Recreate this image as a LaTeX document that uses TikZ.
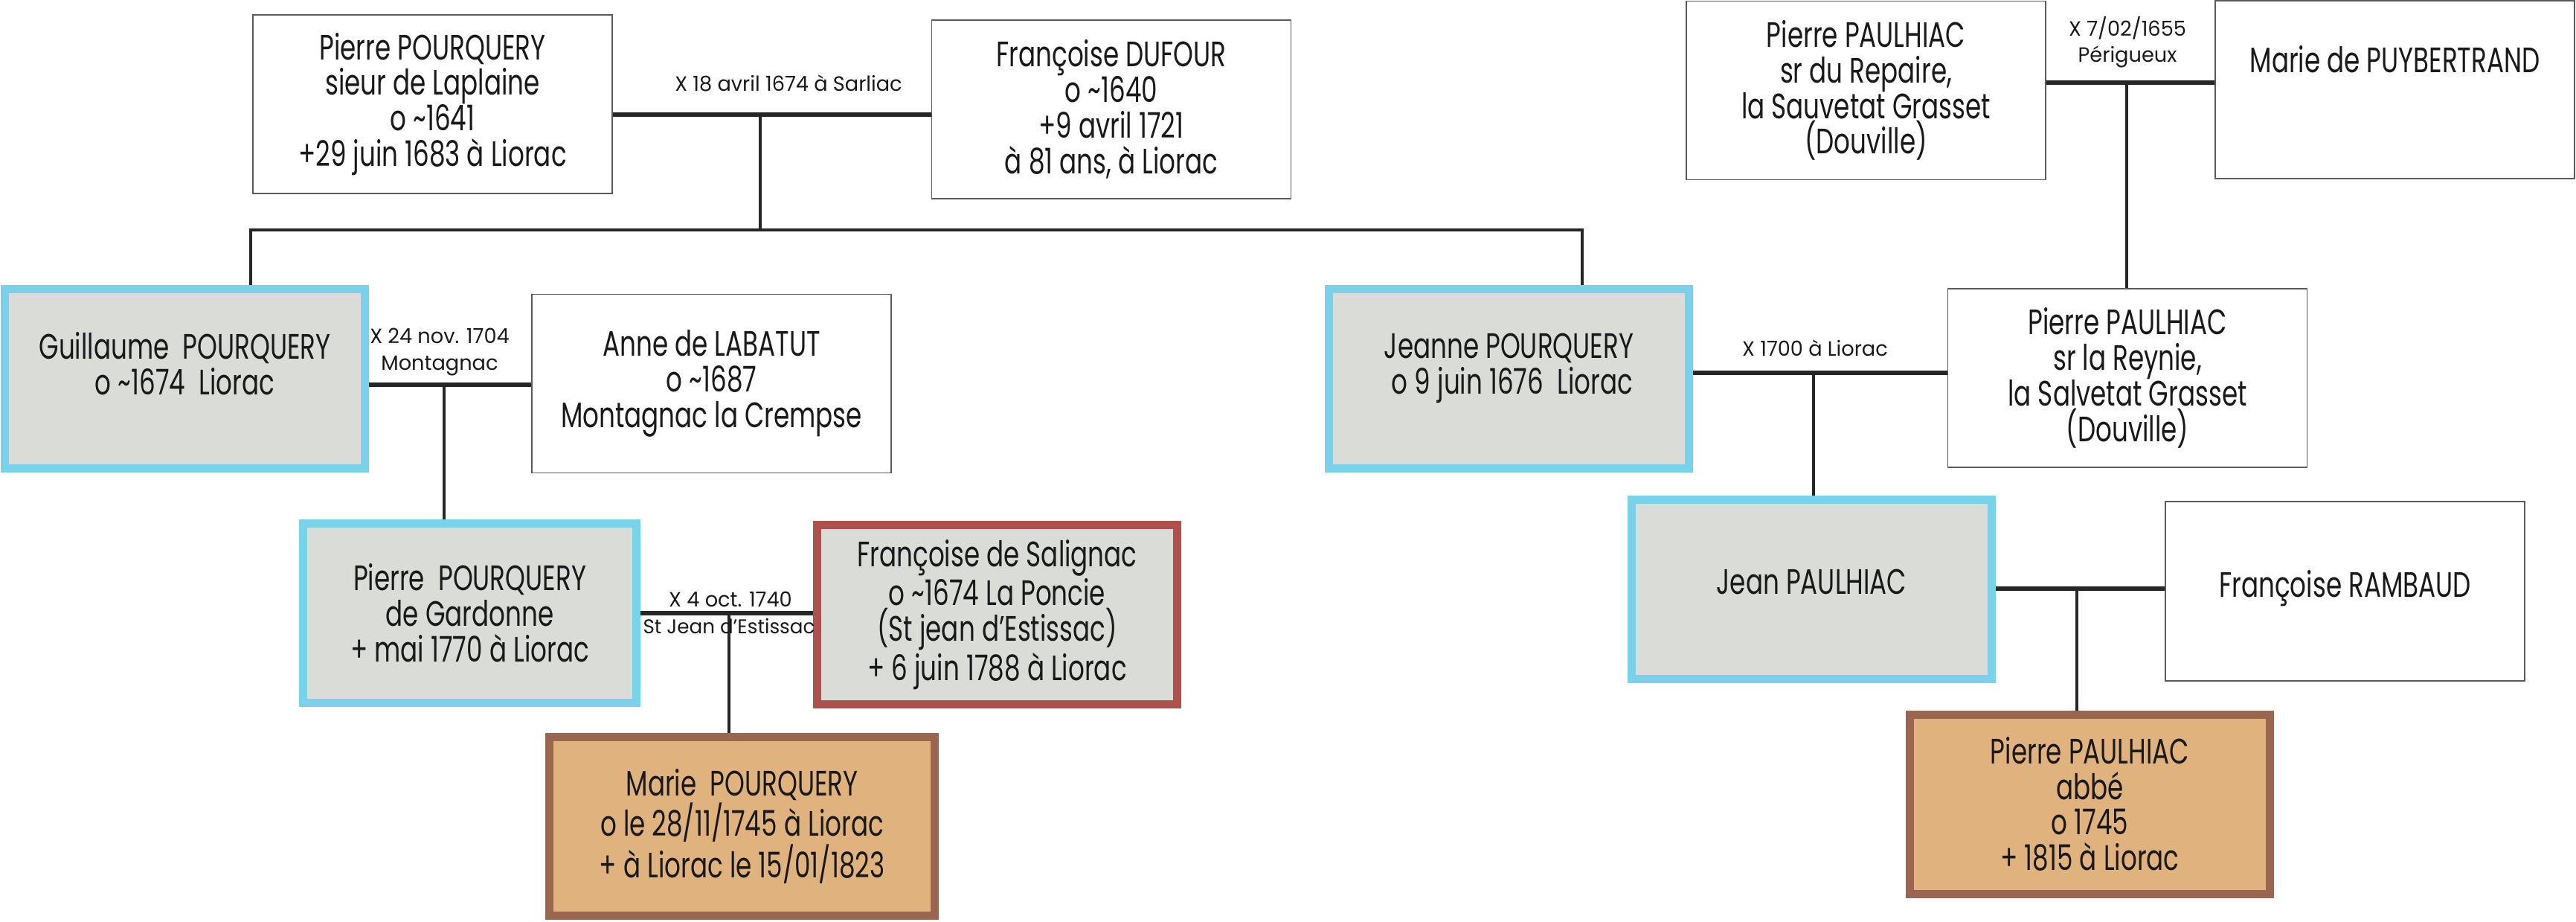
\documentclass[tikz,border=0pt]{standalone}
\usepackage{fontspec}
\setmainfont{Poppins}[FakeStretch=0.72]
\newfontfamily\wedface{Poppins}[FakeStretch=0.98]
\usepackage{tikz}
\usetikzlibrary{positioning,calc}

\definecolor{kinblue}{RGB}{121,210,234}
\definecolor{kingray}{RGB}{218,220,216}
\definecolor{wifered}{RGB}{176,80,78}
\definecolor{heirbrown}{RGB}{154,102,80}
\definecolor{heirtan}{RGB}{224,178,126}
\definecolor{framegray}{RGB}{90,90,90}
\definecolor{inkgray}{RGB}{25,25,25}

\newcommand{\namefont}{\fontsize{13.5}{13.6}\selectfont}
\newcommand{\wedfont}{\wedface\fontsize{7.9}{10}\selectfont}

\begin{document}
\begin{tikzpicture}
 \coordinate (origo) at (0,0);
 \useasboundingbox (origo) rectangle (34.63,-12.38);

\tikzstyle{person}=[draw=framegray,line width=0.5pt,fill=white,text=inkgray,align=center,inner sep=0pt,font=\namefont,minimum width=4.83cm,minimum height=2.40cm]
\tikzstyle{blood}=[person,draw=kinblue,line width=0.11cm,fill=kingray,minimum width=4.84cm,minimum height=2.41cm]
\tikzstyle{inlaw}=[blood,draw=wifered]
\tikzstyle{heir}=[blood,draw=heirbrown,fill=heirtan]
\tikzstyle{wed}=[line width=1.5pt,draw=black!85]
\tikzstyle{kin}=[line width=1pt,draw=black!85]
\tikzstyle{wedlabel}=[font=\wedfont,text=inkgray,align=center,inner sep=1pt]

   %first couple
   \node (pPierre) at (5.815,-1.40) [person] {Pierre POURQUERY\\sieur de Laplaine\\o \textasciitilde1641\\+29 juin 1683 à Liorac};
   \node (fDufour) at (14.94,-1.47) [person] {Françoise DUFOUR\\o \textasciitilde1640\\+9 avril 1721\\à 81 ans, à Liorac};

   %their children
   \node (gGuillaume) at (2.485,-5.085) [blood,text depth=0.4cm] {Guillaume\ \ POURQUERY\\o \textasciitilde1674\ \ Liorac};
   \node (aAnne) at (9.565,-5.155) [person] {Anne de LABATUT\\o \textasciitilde1687\\Montagnac la Crempse};
   \node (jJeanne) at (20.285,-5.09) [blood,text depth=0.4cm] {Jeanne POURQUERY\\\ o 9 juin 1676\ \ Liorac};

   \node (pGardonne) at (6.315,-8.235) [blood,minimum width=4.48cm] {Pierre\ \ POURQUERY\\de Gardonne\\+ mai 1770 à Liorac};
   \node (fSalignac) at (13.405,-8.26) [inlaw] {Françoise de Salignac\\o \textasciitilde1674 La Poncie\\(St jean d’Estissac)\\+ 6 juin 1788 à Liorac};
   \node (mMarie) at (9.975,-11.105) [heir,minimum width=5.18cm,minimum height=2.40cm] {Marie\ \ POURQUERY\\o le 28/11/1745 à Liorac\\+ à Liorac le 15/01/1823};

   %Paulhiac side
   \node (pRepaire) at (25.085,-1.215) [person] {Pierre PAULHIAC\\sr du Repaire,\\la Sauvetat Grasset\\(Douville)};
   \node (mPuy) at (32.195,-1.205) [person,minimum height=0pt,text height=0.965cm,text depth=1.425cm] {Marie de PUYBERTRAND};
   \node (pReynie) at (28.60,-5.08) [person] {Pierre PAULHIAC\\sr la Reynie,\\la Salvetat Grasset\\(Douville)};
   \node (jJean) at (24.355,-7.92) [blood,text depth=0.2cm] {Jean PAULHIAC};
   \node (fRambaud) at (31.525,-7.945) [person,minimum height=2.41cm,text depth=0.2cm] {Françoise RAMBAUD};
   \node (pAbbe) at (28.095,-10.805) [heir] {Pierre PAULHIAC\\abbé\\o 1745\\+ 1815 à Liorac};

   %marriages
   \coordinate (wedA) at (10.22,-1.54);
   \coordinate (wedB) at (5.97,-5.17);
   \coordinate (wedC) at (9.80,-8.24);
   \coordinate (wedD) at (24.38,-5.01);
   \coordinate (wedE) at (28.59,-1.11);
   \coordinate (wedF) at (27.92,-7.91);
   \coordinate (sibL) at (3.37,-3.09);
   \coordinate (sibR) at (21.27,-3.09);

   \draw[wed] (pPierre.east |- wedA) -- (fDufour.west |- wedA);
   \draw[kin] (wedA) -- (wedA |- sibL);
   \draw[kin,line width=1.3pt] (sibL |- gGuillaume.north) -- (sibL) -- (sibR) -- (sibR |- jJeanne.north);

   \draw[wed] (gGuillaume.east |- wedB) -- (aAnne.west |- wedB);
   \draw[kin] (wedB) -- (wedB |- pGardonne.north);

   \draw[wed] (pGardonne.east |- wedC) -- (fSalignac.west |- wedC);
   \draw[kin] (wedC) -- (wedC |- mMarie.north);

   \draw[wed] (pRepaire.east |- wedE) -- (mPuy.west |- wedE);
   \draw[kin] (wedE) -- (wedE |- pReynie.north);

   \draw[wed] (jJeanne.east |- wedD) -- (pReynie.west |- wedD);
   \draw[kin] (wedD) -- (wedD |- jJean.north);

   \draw[wed] (jJean.east |- wedF) -- (fRambaud.west |- wedF);
   \draw[kin] (wedF) -- (wedF |- pAbbe.north);

   %labels
   \node (wedA_label) at (10.60,-1.12) [wedlabel] {X 18 avril 1674 à Sarliac};
   \node (wedB_label) at (5.91,-4.73) [wedlabel] {X 24 nov. 1704\\Montagnac};
   \node (wedC_label) at (9.82,-8.05) [wedlabel] {X 4 oct. 1740};
   \node (wedC_place) at (9.80,-8.41) [wedlabel,font=\wedface\fontsize{7.6}{10}\selectfont] {St Jean d’Estissac};
   \node (wedD_label) at (24.40,-4.68) [wedlabel] {X 1700 à Liorac};
   \node (wedE_label) at (28.60,-0.565) [wedlabel] {X 7/02/1655\\Périgueux};

\end{tikzpicture}
\end{document}
